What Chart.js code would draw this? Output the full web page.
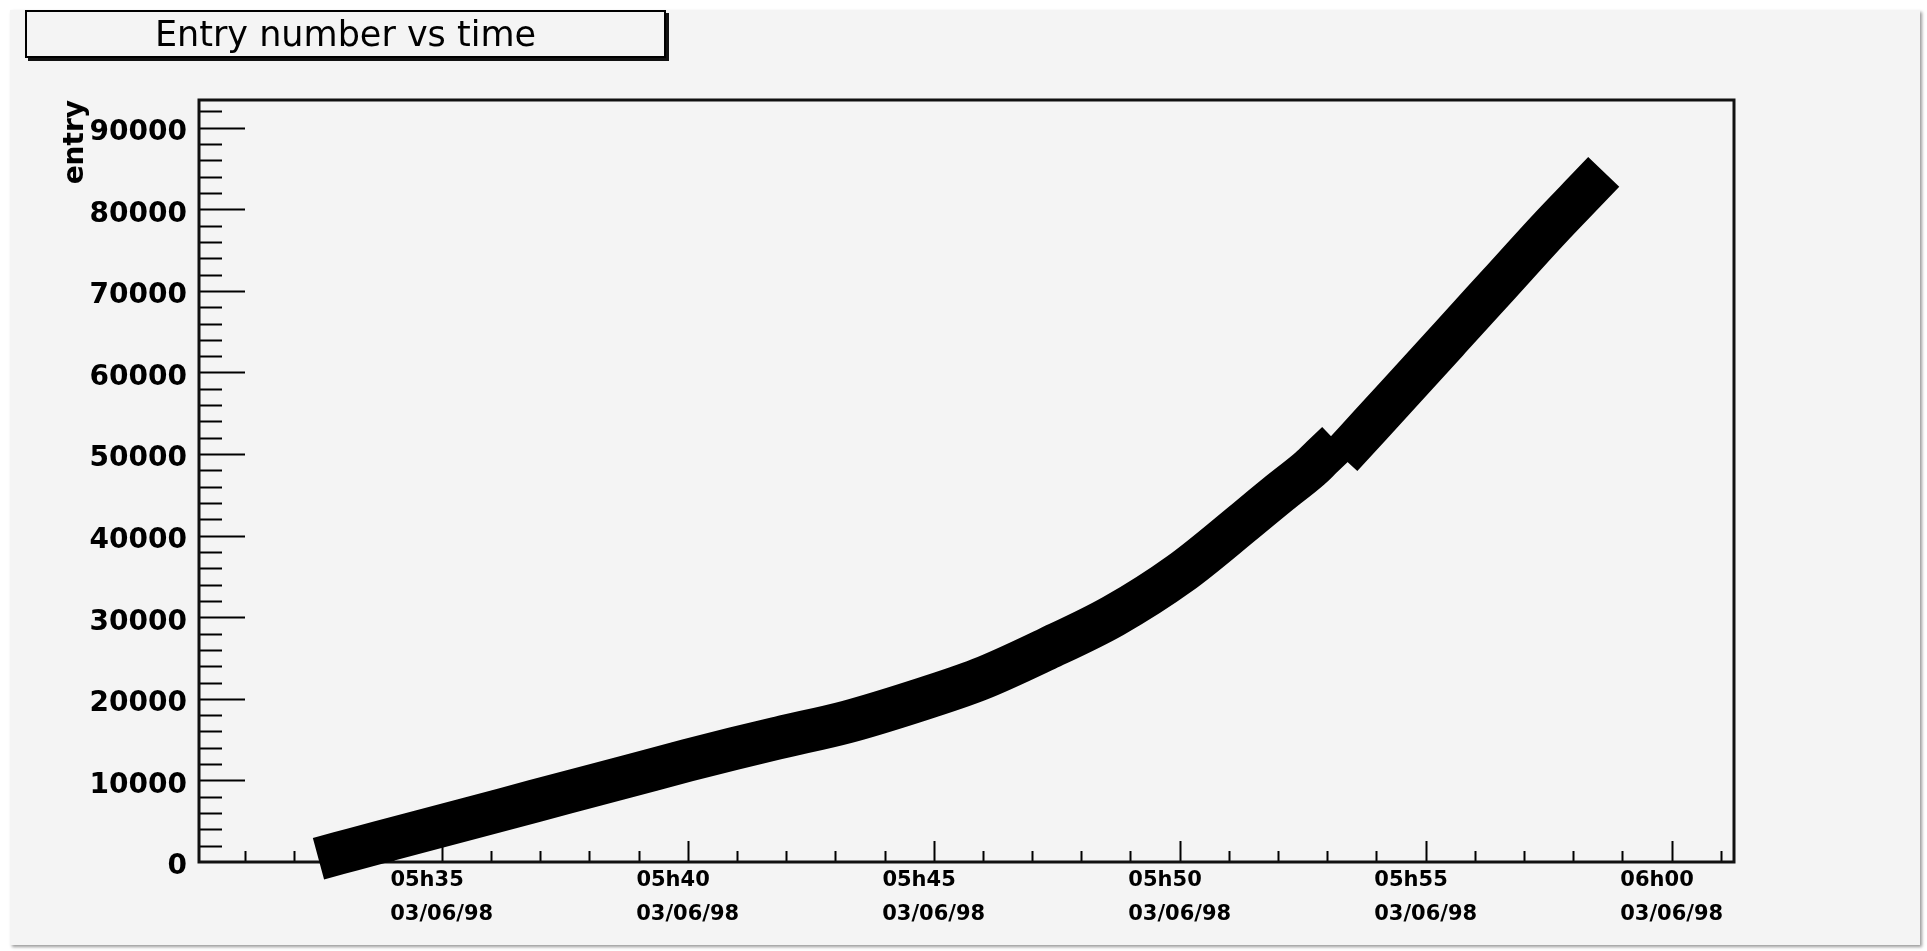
<!DOCTYPE html>
<html>
<head>
<meta charset="utf-8">
<script src="https://cdn.jsdelivr.net/npm/chart.js@4.4.1/dist/chart.umd.min.js"></script>
<style>
  html, body { margin: 0; padding: 0; background: #ffffff; width: 1927px; height: 951px; overflow: hidden; }
  #panel { position: absolute; left: 10px; top: 10px; width: 1910px; height: 935px; background: #f4f4f4; box-shadow: 2px 2px 3px #9a9a9a; }
  #wrap { position: absolute; left: 0; top: 0; width: 1927px; height: 951px; }
  #title {
    position: absolute; left: 25px; top: 10px; width: 637px; height: 44px;
    border: 2px solid #000; box-shadow: 3px 3px 0 #111; background: #f4f4f4;
    font: 35px "DejaVu Sans", sans-serif; color: #000; text-align: center; line-height: 45px;
  }
</style>
</head>
<body>
<div id="panel"></div>
<div id="wrap"><canvas id="chart" width="1927" height="951"></canvas></div>
<div id="title">Entry number vs time</div>
<script>
// Acquisition date shown under every time label
const dateLabel = '03/06/98';

// Entry number against wall-clock time, first run of the file
const timesEarly = ['05:32:55', '05:33:44', '05:35:00', '05:36:16', '05:37:31', '05:38:46',
                    '05:40:00', '05:40:56', '05:41:52', '05:43:14', '05:44:35', '05:45:56',
                    '05:47:17', '05:48:39', '05:50:00', '05:51:21', '05:52:02', '05:52:39', '05:52:53'];
const entriesEarly = [1100, 2430, 4450, 6470, 8490, 10480,
                      12470, 13900, 15245, 17160, 19610, 22390,
                      26070, 30150, 35340, 41880, 45270, 48250, 49600];

// Entries written after the short pause
const timesLate = ['05:53:35', '05:54:28', '05:55:29', '05:56:30', '05:57:31', '05:58:19'];
const entriesLate = [51640, 57460, 64180, 70910, 77640, 82680];

// Axis tick labels
const xTickLabels = ['05h35', '05h40', '05h45', '05h50', '05h55', '06h00'];
const yTickLabels = ['0', '10000', '20000', '30000', '40000', '50000', '60000', '70000', '80000', '90000'];

// Axis ranges
const xRange = ['05:30:04', '06:01:16'];
const yRange = [0, 93400];

function toSeconds(str) {
  const p = str.split(/[:h]/).map(Number);
  return p[0] * 3600 + p[1] * 60 + (p[2] || 0);
}
function toPoints(times, entries) {
  return times.map((t, i) => ({ x: toSeconds(t), y: entries[i] }));
}

const FONT = 'DejaVu Sans';

// Frame and inward tick marks, drawn under the markers
const framePlugin = {
  id: 'frameTicks',
  beforeDatasetsDraw(chart) {
    const { ctx, chartArea: a, scales: { x, y } } = chart;
    ctx.save();
    ctx.strokeStyle = '#000';
    ctx.lineWidth = 2;
    ctx.beginPath();
    for (let t = Math.ceil(x.min / 60) * 60; t <= x.max; t += 60) {
      const px = Math.round(x.getPixelForValue(t)) + 0.5;
      const len = t % 300 === 0 ? 21 : 11;
      ctx.moveTo(px, a.bottom);
      ctx.lineTo(px, a.bottom - len);
    }
    for (let v = 2000; v <= y.max; v += 2000) {
      const py = Math.round(y.getPixelForValue(v)) + 0.5;
      const len = v % 10000 === 0 ? 46 : 23;
      ctx.moveTo(a.left, py);
      ctx.lineTo(a.left + len, py);
    }
    ctx.stroke();
    ctx.lineWidth = 3;
    ctx.strokeStyle = '#111';
    ctx.strokeRect(a.left, a.top, a.right - a.left, a.bottom - a.top);
    ctx.restore();
  }
};

const markStyle = {
  borderColor: '#000',
  backgroundColor: '#000',
  borderWidth: 43,
  borderCapStyle: 'square',
  borderJoinStyle: 'round',
  cubicInterpolationMode: 'monotone',
  pointRadius: 0,
  fill: false,
  clip: false
};

new Chart(document.getElementById('chart'), {
  type: 'line',
  data: {
    datasets: [
      Object.assign({ label: 'entry', data: toPoints(timesEarly, entriesEarly) }, markStyle),
      Object.assign({ label: 'entry (after pause)', data: toPoints(timesLate, entriesLate) }, markStyle)
    ]
  },
  options: {
    responsive: false,
    animation: false,
    devicePixelRatio: 1,
    layout: { padding: { top: 100, right: 193, left: 0, bottom: 0 } },
    plugins: { legend: { display: false }, tooltip: { enabled: false } },
    scales: {
      x: {
        type: 'linear',
        min: toSeconds(xRange[0]),
        max: toSeconds(xRange[1]),
        grid: { display: false, drawTicks: false },
        border: { display: false },
        afterBuildTicks: s => { s.ticks = xTickLabels.map(l => ({ value: toSeconds(l) })); },
        afterFit: s => { s.height = 89; },
        ticks: {
          autoSkip: false, maxRotation: 0, minRotation: 0, padding: 2, color: '#000',
          font: { family: FONT, size: 21, weight: 'bold', lineHeight: 1.6 },
          callback: (v, i) => [xTickLabels[i] + '    ', dateLabel]
        }
      },
      y: {
        type: 'linear',
        min: yRange[0],
        max: yRange[1],
        grid: { display: false, drawTicks: false },
        border: { display: false },
        afterBuildTicks: s => { s.ticks = yTickLabels.map(l => ({ value: Number(l) })); },
        afterFit: s => { s.width = 199; },
        ticks: {
          padding: 12, labelOffset: 5, color: '#000',
          font: { family: FONT, size: 28, weight: 'bold' },
          callback: (v, i) => yTickLabels[i]
        },
        title: {
          display: true, text: 'entry', align: 'end', color: '#000',
          font: { family: FONT, size: 28, weight: 'bold', lineHeight: 1.2 },
          padding: { top: 59, bottom: 0 }
        }
      }
    }
  },
  plugins: [framePlugin]
});
</script>
</body>
</html>
